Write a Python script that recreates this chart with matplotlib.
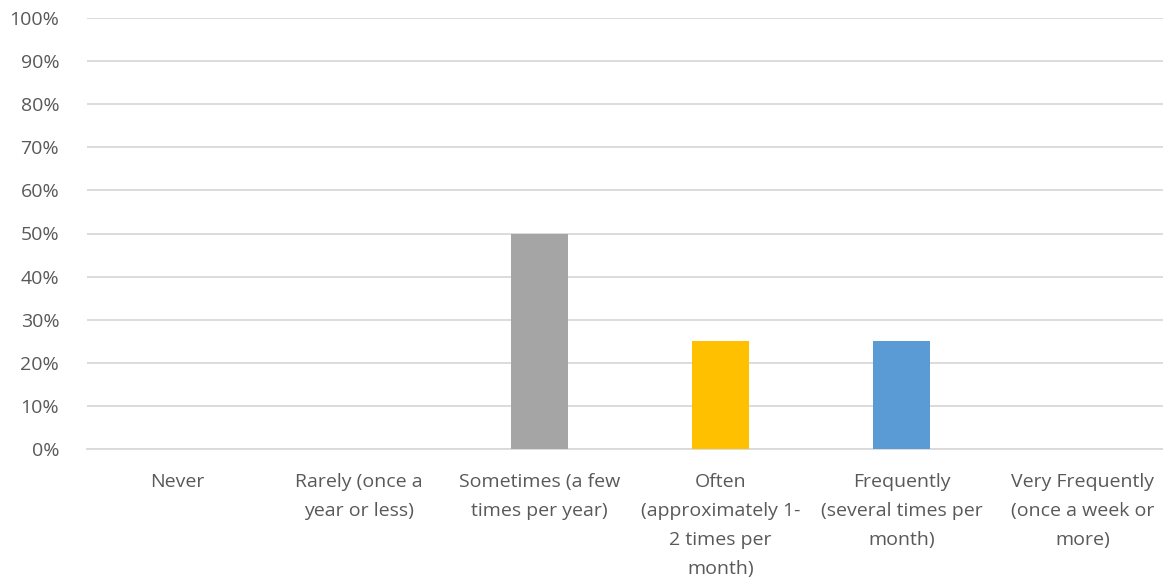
import matplotlib.pyplot as plt
from matplotlib.ticker import PercentFormatter

# datos
categorias = ["Never", "Rarely (once a\nyear or less)", "Sometimes (a few\ntimes per year)",
              "Often\n(approximately 1-\n2 times per\nmonth)",
              "Frequently\n(several times per\nmonth)", "Very Frequently\n(once a week or\nmore)"]
valores = [0, 0, 0.50, 0.25, 0.25, 0]
colores = ["#4472C4", "#ED7D31", "#A5A5A5", "#FFC000", "#5B9BD5", "#70AD47"]

plt.rcParams['font.family'] = ['Open Sans', 'DejaVu Sans']

fig = plt.figure(figsize=(11.63, 5.81), dpi=100)
# el area del grafico se sale un poco por la derecha, como en la imagen original
ax = fig.add_axes([87/1163, 1 - 449/581, (1173 - 87)/1163, (449 - 18)/581])

x = range(len(categorias))
ax.bar(x, valores, width=0.315, color=colores, zorder=3)

ax.set_xlim(-0.5, len(categorias) - 0.5)
ax.set_ylim(0, 1)
ax.set_yticks([i / 10 for i in range(11)])
ax.yaxis.set_major_formatter(PercentFormatter(1.0, decimals=0))
ax.grid(axis='y', color='#D9D9D9', linewidth=1.3, zorder=0)
ax.set_xticks(list(x))
ax.set_xticklabels(categorias, linespacing=1.8)

for s in ax.spines.values():
    s.set_visible(False)
ax.spines['bottom'].set_visible(True)
ax.spines['bottom'].set_color('#D9D9D9')
ax.spines['bottom'].set_linewidth(1.3)

ax.tick_params(axis='both', length=0, labelsize=14, labelcolor='#595959')
ax.tick_params(axis='y', pad=20)
ax.tick_params(axis='x', pad=17)

plt.savefig("out.png")
